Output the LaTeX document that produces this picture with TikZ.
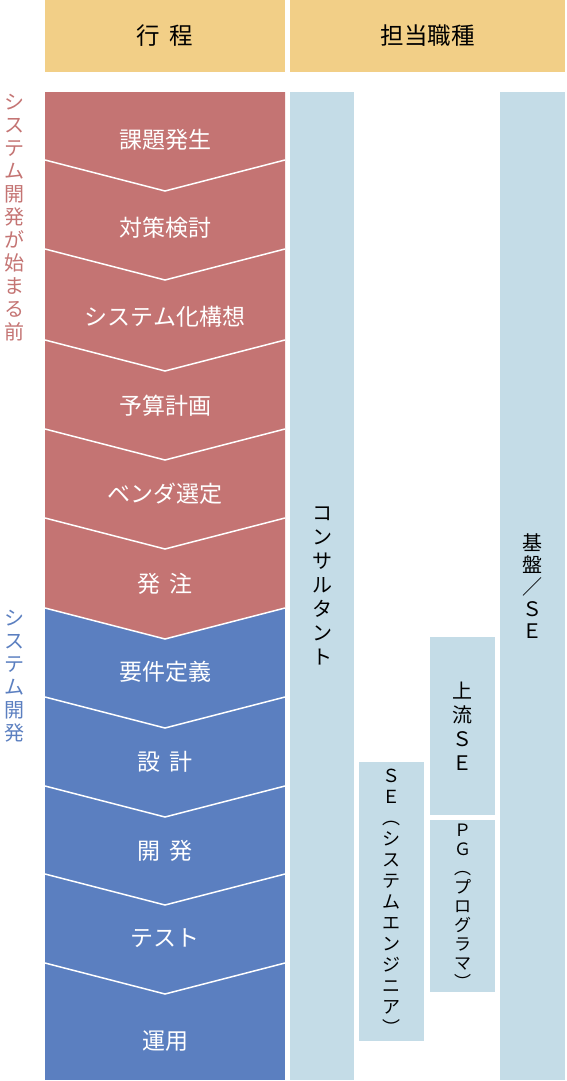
\documentclass[tikz,border=0pt]{standalone}
\usepackage{fontspec}
\setmainfont{Noto Sans CJK JP}
\definecolor{hdr}{HTML}{F2CF87}
\definecolor{pre}{HTML}{C47473}
\definecolor{dev}{HTML}{5B7FC0}
\definecolor{role}{HTML}{C4DCE7}
\tikzset{
  hdrbox/.style={fill=hdr,inner sep=0pt,font=\fontsize{23.5}{26}\selectfont},
  steplabel/.style={text=white,inner sep=0pt,font=\fontsize{23}{26}\selectfont},
  rolebox/.style={fill=role,inner sep=0pt},
  tate/.style={inner sep=0pt,align=center,font=\fontsize{20}{24}\selectfont},
  tatesmall/.style={inner sep=0pt,align=center,font=\fontsize{18}{21}\selectfont},
  sidelabel/.style={inner sep=0pt,align=center,font=\fontsize{20}{23}\selectfont},
}
\begin{document}
\begin{tikzpicture}[x=1pt,y=-1pt]
\useasboundingbox (0,0) rectangle (566,1081);

 % header
 \node[hdrbox,minimum width=240,minimum height=72] (koutei) at (165,36) {行\hspace{.4em}程};
 \node[hdrbox,minimum width=275,minimum height=72] (shokushu) at (427.5,36) {担当職種};

 % process column
 \fill[dev] (45,608) rectangle (285,1080);
 \fill[pre] (45,92) -- (285,92) -- (285,608) -- (165,639) -- (45,608) -- cycle;
 \foreach \e in {160,249,340,429,518,608,697,786,874,963}
    \draw[white,line width=1.5pt] (45,\e) -- (165,\e+31) -- (285,\e);

 \foreach \y/\name/\txt in {140/kadai/課題発生,228/taisaku/対策検討,317/kousou/システム化構想,
    406/yosan/予算計画,494/vendor/ベンダ選定,584/hacchu/{発\hspace{.4em}注},
    672/youken/要件定義,762/sekkei/{設\hspace{.4em}計},851/kaihatsu/{開\hspace{.4em}発},
    938/test/テスト,1041/unyou/運用}
    \node[steplabel] (\name) at (165,\y) {\txt};

 % phases
 \node[sidelabel,text=pre] (maeLabel) at (15,218) {シ\\ス\\テ\\ム\\開\\発\\が\\始\\ま\\る\\前};
 \node[sidelabel,text=dev] (devLabel) at (15,676) {シ\\ス\\テ\\ム\\開\\発};

 % roles
 \node[rolebox,minimum width=64,minimum height=988] (consul) at (322,586) {};
 \node[rolebox,minimum width=65,minimum height=988] (kiban) at (532.5,586) {};
 \node[rolebox,minimum width=65,minimum height=178] (joryu) at (462.5,726) {};
 \node[rolebox,minimum width=65,minimum height=172] (pg) at (462.5,906) {};
 \node[rolebox,minimum width=65,minimum height=279] (se) at (391.5,901.5) {};

 \node[tate] (consulText) at (consul.center) {コ\\ン\\サ\\ル\\タ\\ン\\ト};
 \node[tate,font=\fontsize{20}{22}\selectfont] (kibanText) at (kiban.center) {基\\盤\\／\\Ｓ\\Ｅ};
 \node[tate] (joryuText) at (joryu.center) {上\\流\\Ｓ\\Ｅ};
 \node[tatesmall,font=\fontsize{17}{19}\selectfont] (pgText) at (pg.center)
    {Ｐ\\Ｇ\\︵\\プ\\ロ\\グ\\ラ\\マ\\︶};
 \node[tatesmall] (seText) at (se.center)
    {Ｓ\\Ｅ\\︵\\シ\\ス\\テ\\ム\\エ\\ン\\ジ\\ニ\\ア\\︶};

\end{tikzpicture}
\end{document}
